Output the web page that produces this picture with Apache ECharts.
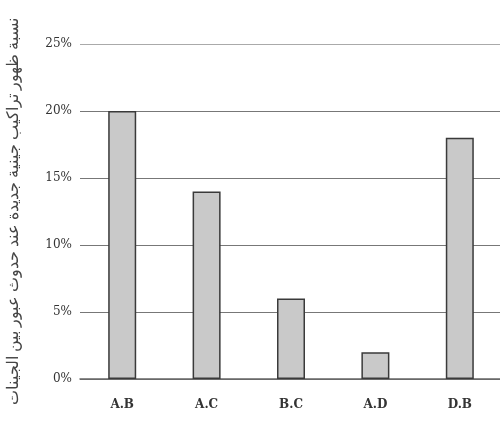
<!DOCTYPE html>
<html>
<head>
<meta charset="utf-8">
<script src="https://cdn.jsdelivr.net/npm/echarts@6/dist/echarts.min.js"></script>
<style>
html, body { margin: 0; padding: 0; background: #fff; }
#main { width: 500px; height: 437px; }
</style>
</head>
<body>
<div id="main"></div>
<script>
var categories = ['A.B', 'A.C', 'B.C', 'A.D', 'D.B'];
var values = [20, 14, 6, 2, 18];
var yTitle = 'نسبة ظهور تراكيب جينية جديدة عند حدوث عبور بين الجينات';

var myChart = echarts.init(document.getElementById('main'));

myChart.setOption({
    backgroundColor: '#fff',
    animation: false,
    grid: {left: 80, right: -2, top: 44, bottom: 58, outerBoundsMode: 'none'},
    xAxis: {
        type: 'category',
        data: categories,
        axisLine: {show: true, lineStyle: {color: '#666', width: 1.5}},
        axisTick: {show: false},
        axisLabel: {
            margin: 20,
            color: '#333',
            fontFamily: 'DejaVu Serif',
            fontWeight: 'bold',
            fontSize: 12
        }
    },
    yAxis: {
        type: 'value',
        min: 0,
        max: 25,
        interval: 5,
        name: yTitle,
        nameLocation: 'middle',
        nameRotate: 90,
        nameGap: 58,
        nameTextStyle: {
            fontFamily: 'Noto Sans',
            fontSize: 15.5,
            color: '#444'
        },
        axisLine: {show: false},
        axisTick: {show: false},
        axisLabel: {
            margin: 8,
            color: '#333',
            fontFamily: 'DejaVu Serif',
            fontSize: 12,
            formatter: '{value}%'
        },
        splitLine: {
            lineStyle: {
                color: ['#777', '#777', '#777', '#777', '#777', '#aaa'],
                width: 1.2
            }
        }
    },
    series: [{
        type: 'bar',
        data: values,
        barWidth: 28,
        itemStyle: {
            color: '#c9c9c9',
            borderColor: '#3a3a3a',
            borderWidth: 1.5
        }
    }]
});
</script>
</body>
</html>
